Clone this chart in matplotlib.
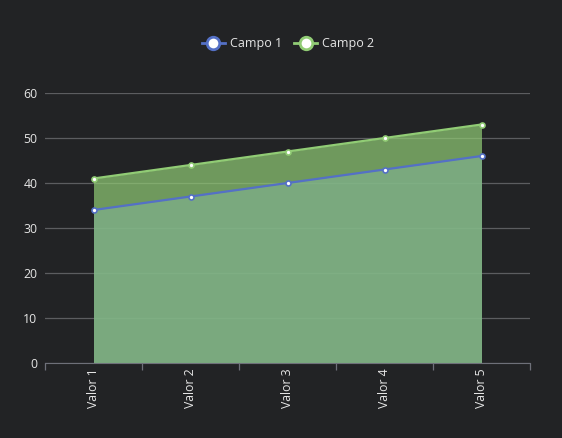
import numpy as np
import matplotlib
matplotlib.use("Agg")
from matplotlib import pyplot as plt
from matplotlib.lines import Line2D

# datos
categorias = ["Valor 1", "Valor 2", "Valor 3", "Valor 4", "Valor 5"]
campo1 = [34, 37, 40, 43, 46]
campo2 = [41, 44, 47, 50, 53]
nombres = ["Campo 1", "Campo 2"]

fondo = "#222325"
azul = "#5470c6"
verde = "#91cc75"
texto = "#e6e6e6"

plt.rcParams["font.family"] = ["Open Sans", "DejaVu Sans"]

fig = plt.figure(figsize=(5.62, 4.38), dpi=100, facecolor=fondo)
ax = fig.add_axes([45 / 562, 75 / 438, 485 / 562, 270 / 438], facecolor=fondo)

xs = np.arange(len(categorias))

# areas
ax.fill_between(xs, 0, campo1, color=azul, alpha=0.7, linewidth=0, zorder=2)
ax.fill_between(xs, 0, campo2, color=verde, alpha=0.7, linewidth=0, zorder=3)
# lineas
ax.plot(xs, campo2, color=verde, linewidth=1.6, marker="o", markersize=3.6,
        markerfacecolor="white", markeredgecolor=verde, markeredgewidth=1.2, zorder=5)
ax.plot(xs, campo1, color=azul, linewidth=1.6, marker="o", markersize=3.6,
        markerfacecolor="white", markeredgecolor=azul, markeredgewidth=1.2, zorder=6)

ax.set_xlim(-0.5, len(categorias) - 0.5)
ax.set_ylim(0, 60)
ax.set_yticks(range(0, 61, 10))
ax.yaxis.grid(True, color="#5c5d60", linewidth=0.9, zorder=1)
ax.set_axisbelow(True)

# ticks del eje x en los limites de categoria, etiquetas en el centro
ax.set_xticks(np.arange(-0.5, len(categorias), 1.0))
ax.set_xticklabels([])
ax.set_xticks(xs, minor=True)
ax.set_xticklabels(categorias, minor=True, rotation=90, color=texto, fontsize=8.8)
ax.tick_params(axis="x", which="major", length=5, color="#6e7079", width=0.9)
ax.tick_params(axis="x", which="minor", length=0, pad=4)
ax.tick_params(axis="y", length=0, colors=texto, labelsize=8.8, pad=5.5)

for s in ["top", "right", "left"]:
    ax.spines[s].set_visible(False)
ax.spines["bottom"].set_color("#6e7079")
ax.spines["bottom"].set_zorder(7)

# leyenda
handles = [
    Line2D([], [], color=azul, linewidth=2, marker="o", markersize=9,
           markerfacecolor="white", markeredgecolor=azul, markeredgewidth=2),
    Line2D([], [], color=verde, linewidth=2, marker="o", markersize=9,
           markerfacecolor="white", markeredgecolor=verde, markeredgewidth=2),
]
leg = fig.legend(handles, nombres, loc="center", bbox_to_anchor=(288 / 562, 1 - 44 / 438),
                 ncol=2, frameon=False, fontsize=9, labelcolor=texto,
                 handlelength=1.9, handletextpad=0.4, columnspacing=0.9)

plt.savefig("out.png", dpi=100, facecolor=fondo)
